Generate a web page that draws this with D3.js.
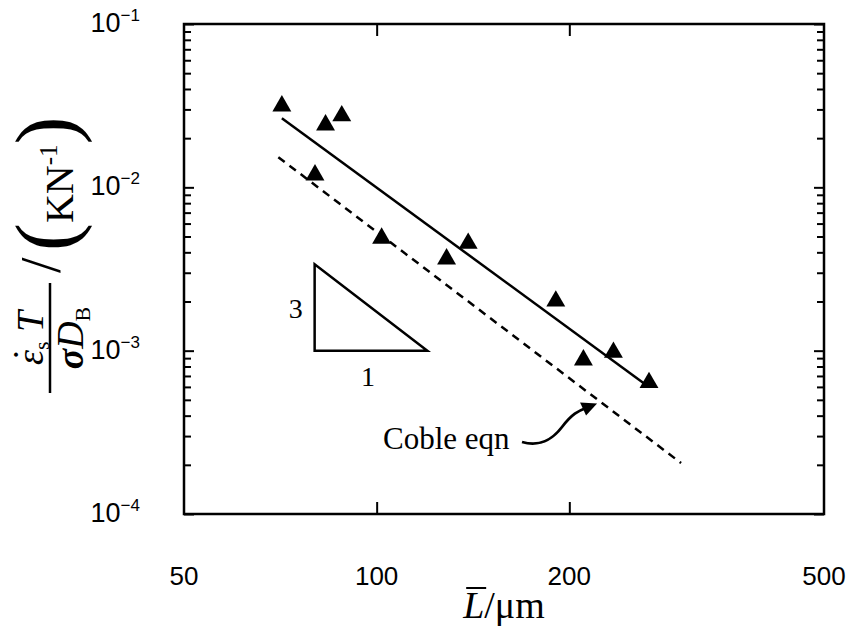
<!DOCTYPE html>
<html><head><meta charset="utf-8">
<script src="https://cdn.jsdelivr.net/npm/d3@7"></script>
<style>body{margin:0;background:#fff}svg{display:block}</style>
</head><body>
<svg id="c" width="849" height="629"></svg>
<script>
// ---- data ----
const grainSize = [71.1, 83.2, 88.2, 80.1, 101.8, 139.0, 128.6, 190.5, 210.4, 234.4, 266.4];
const normRate  = [0.0315, 0.0241, 0.0274, 0.0119, 0.00488, 0.00454, 0.00364, 0.00201, 0.000877, 0.000977, 0.000637];
const fitX   = [71.1, 265];
const fitY   = [0.0265, 0.000608];
const cobleX = [70.2, 299];
const cobleY = [0.0153, 0.000205];
const slopeX = [80, 120];
const slopeY = [0.001, 0.003375];
const xTickVals = [50, 100, 200, 500];
const xTickLabels = ["50", "100", "200", "500"];
const yMajor = [1e-4, 1e-3, 1e-2, 1e-1];
const yExp = ["−4", "−3", "−2", "−1"];

const svg = d3.select("#c");
const L = 184, R = 824, T = 24, B = 514;
const x = d3.scaleLog().domain([50, 500]).range([L, R]);
const y = d3.scaleLog().domain([1e-4, 1e-1]).range([B, T]);

const yMinor = [];
for (let e = -4; e < -1; e++) for (let m = 2; m <= 9; m++) yMinor.push(m * Math.pow(10, e));

const axStyle = g => { g.select(".domain").remove(); g.selectAll("line").attr("stroke", "#000").attr("stroke-width", 2); g.selectAll("text").remove(); };
svg.append("g").attr("transform", `translate(${L},0)`).call(d3.axisLeft(y).tickValues(yMajor).tickSize(-10)).call(axStyle);
svg.append("g").attr("transform", `translate(${L},0)`).call(d3.axisLeft(y).tickValues(yMinor).tickSize(-7)).call(axStyle);
svg.append("g").attr("transform", `translate(${R},0)`).call(d3.axisRight(y).tickValues(yMajor).tickSize(-10)).call(axStyle);
svg.append("g").attr("transform", `translate(${R},0)`).call(d3.axisRight(y).tickValues(yMinor).tickSize(-7)).call(axStyle);
svg.append("g").attr("transform", `translate(0,${B})`).call(d3.axisBottom(x).tickValues([100, 200]).tickSize(-12)).call(axStyle);
svg.append("g").attr("transform", `translate(0,${T})`).call(d3.axisTop(x).tickValues([100, 200]).tickSize(-12)).call(axStyle);

svg.append("rect").attr("x", L).attr("y", T).attr("width", R - L).attr("height", B - T)
  .attr("fill", "none").attr("stroke", "#000").attr("stroke-width", 2.5);

// tick labels
const sans = "'Liberation Sans', Arial, Helvetica, sans-serif";
xTickVals.forEach((v, i) => {
  svg.append("text").attr("x", x(v)).attr("y", 585).attr("text-anchor", "middle")
    .attr("font-family", sans).attr("font-size", 26).text(xTickLabels[i]);
});
yMajor.forEach((v, i) => {
  const t = svg.append("text").attr("x", 140).attr("y", y(v) + 8).attr("text-anchor", "end")
    .attr("font-family", sans).attr("font-size", 27);
  t.append("tspan").text("10");
  t.append("tspan").attr("dy", -11).attr("font-size", 17).text(yExp[i]);
});

// lines
const line = d3.line().x(d => x(d[0])).y(d => y(d[1]));
svg.append("path").datum(d3.zip(fitX, fitY)).attr("d", line)
  .attr("fill", "none").attr("stroke", "#000").attr("stroke-width", 2.5);
svg.append("path").datum(d3.zip(cobleX, cobleY)).attr("d", line)
  .attr("fill", "none").attr("stroke", "#000").attr("stroke-width", 2.5).attr("stroke-dasharray", "8,6");

// points
svg.append("g").selectAll("path").data(d3.zip(grainSize, normRate)).join("path")
  .attr("transform", d => `translate(${x(d[0])},${y(d[1])})`)
  .attr("d", d3.symbol(d3.symbolTriangle, 155)).attr("fill", "#000");

// slope triangle
const tri = [[slopeX[0], slopeY[1]], [slopeX[0], slopeY[0]], [slopeX[1], slopeY[0]]];
svg.append("path").attr("d", line(tri) + "Z").attr("fill", "none").attr("stroke", "#000").attr("stroke-width", 2.5);
const serif = "'Liberation Serif', 'Times New Roman', serif";
svg.append("text").attr("x", x(slopeX[0]) - 12).attr("y", (y(slopeY[0]) + y(slopeY[1])) / 2 + 10)
  .attr("text-anchor", "end").attr("font-family", serif).attr("font-size", 28).text("3");
svg.append("text").attr("x", (x(slopeX[0]) + x(slopeX[1])) / 2 - 3).attr("y", y(slopeY[0]) + 35)
  .attr("text-anchor", "middle").attr("font-family", serif).attr("font-size", 28).text("1");

// Coble annotation
svg.append("text").attr("x", 383).attr("y", 449).attr("font-family", serif).attr("font-size", 31).text("Coble eqn");
const tipX = x(221), tipY = y(4.75e-4);
svg.append("path").attr("d", `M522,442 C540,447 552,440 562,427 C572,414 578,411 ${tipX - 10},${tipY + 4}`)
  .attr("fill", "none").attr("stroke", "#000").attr("stroke-width", 2.8);
svg.append("path").attr("d", `M${tipX},${tipY} L${tipX - 17},${tipY - 1} L${tipX - 11},${tipY + 12} Z`).attr("fill", "#000");

// x title
const xt = svg.append("text").attr("x", 504).attr("y", 618).attr("text-anchor", "middle")
  .attr("font-family", serif).attr("font-size", 38);
xt.append("tspan").attr("font-style", "italic").text("L");
xt.append("tspan").text("/μm");
const xtb = xt.node().getBBox();
svg.append("line").attr("x1", xtb.x + 4).attr("x2", xtb.x + 24).attr("y1", 588).attr("y2", 588).attr("stroke", "#000").attr("stroke-width", 2);

// y title (rotated)
const g = svg.append("g").attr("transform", "translate(50,393) rotate(-90)");
g.append("line").attr("x1", 0).attr("x2", 110).attr("y1", 0).attr("y2", 0).attr("stroke", "#000").attr("stroke-width", 2.5);
const num = g.append("text").attr("x", 0).attr("y", -7).attr("font-family", serif).attr("font-size", 38);
const eps = num.append("tspan").attr("font-style", "italic").text("ε");
num.append("tspan").attr("font-size", 22).attr("dy", 6).text("s");
num.append("tspan").attr("font-style", "italic").attr("dy", -6).text(" T");
const nw = num.node().getComputedTextLength();
const n0 = 55 - nw / 2;
num.attr("x", n0);
const ew = eps.node().getComputedTextLength();
g.append("text").attr("x", n0 + ew / 2 + 3).attr("y", -11).attr("text-anchor", "middle")
  .attr("font-family", serif).attr("font-size", 38).text("˙");
const den = g.append("text").attr("x", 55).attr("y", 33).attr("text-anchor", "middle").attr("font-family", serif).attr("font-size", 38);
den.append("tspan").attr("font-style", "italic").attr("font-weight", "bold").text("σ");
den.append("tspan").attr("font-style", "italic").text("D");
den.append("tspan").attr("font-size", 22).attr("dy", 7).text("B");
g.append("text").attr("x", 120).attr("y", 10).attr("font-family", serif).attr("font-size", 56).text("/");
const un = g.append("text").attr("x", 142).attr("y", 24).attr("font-family", serif).attr("font-size", 40);
un.append("tspan").attr("font-size", 84).attr("dy", 0).text("(");
un.append("tspan").attr("dy", -1).text("KN");
un.append("tspan").attr("font-size", 25).attr("dy", -16).text("-1");
un.append("tspan").attr("font-size", 84).attr("dy", 17).text(")");
</script>
</body></html>
